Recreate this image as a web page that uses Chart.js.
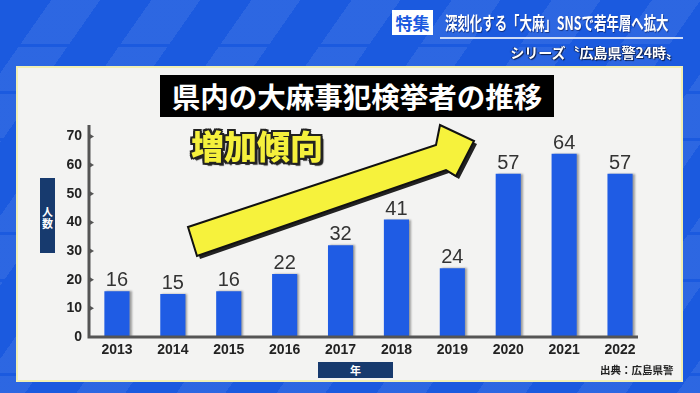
<!DOCTYPE html>
<html lang="ja">
<head>
<meta charset="utf-8">
<script src="https://cdn.jsdelivr.net/npm/chart.js@4.4.1/dist/chart.umd.min.js"></script>
<style>
  html, body { margin: 0; padding: 0; }
  body {
    width: 700px; height: 393px; overflow: hidden; position: relative;
    background:
      repeating-linear-gradient(180deg, rgba(27,90,223,0) 0 44px, #1b5adf 44px 47px),
      repeating-linear-gradient(125deg, rgba(255,255,255,0) 0 42px, rgba(255,255,255,0.08) 42px 82px),
      #1b5adf;
    font-family: "Noto Sans CJK JP", sans-serif;
  }
  .panel {
    position: absolute; left: 16px; top: 66px; width: 663px; height: 312px;
    background: #f3f3f2; border: 2px solid #f1efb4;
  }
  #chart { position: absolute; left: 0; top: 0; z-index: 1; }
  .ov { position: absolute; z-index: 2; white-space: nowrap; }
  .tag {
    left: 392px; top: 10px; width: 41px; height: 25px; background: #fff;
    color: #1b5adf; font-weight: 700; font-size: 17px; line-height: 25px; text-align: center;
  }
  .headline {
    left: 445px; top: 9px; color: #fff; font-weight: 700; font-size: 18px; line-height: 26px;
    transform: scaleX(0.69); transform-origin: left center;
    text-shadow: 1px 1px 1px rgba(0,0,40,0.5);
  }
  .rule { left: 440px; top: 37px; width: 243px; height: 2px; background: #cfdcf7; }
  .series {
    right: 20px; top: 42px; color: #fff; font-weight: 700; font-size: 14px; line-height: 20px;
    text-shadow: 1px 1px 1px #0b1d4a, -1px 0 1px #0b1d4a;
  }
  .title {
    left: 160px; top: 75px; width: 394px; height: 42px; background: #000; color: #fff;
    font-weight: 700; font-size: 28.5px; line-height: 42px; text-align: center;
  }
  .trend {
    left: 191px; top: 125px; color: #f5f03c; font-weight: 900; font-size: 33px; line-height: 40px;
    text-shadow:
      -2px -2px 0 #222, 2px -2px 0 #222, -2px 2px 0 #222, 2px 2px 0 #222,
      0 -2px 0 #222, 0 2px 0 #222, -2px 0 0 #222, 2px 0 0 #222, 3px 3px 1px #222;
  }
  .ylab {
    left: 40px; top: 178px; width: 15px; height: 75px; background: #173a6e; color: #fff;
    font-weight: 700; font-size: 11px; line-height: 12px; text-align: center;
    box-sizing: border-box; padding-top: 27px; white-space: normal;
  }
  .xlab {
    left: 318px; top: 362px; width: 75px; height: 16px; background: #173a6e; color: #fff;
    font-weight: 700; font-size: 11px; line-height: 16px; text-align: center;
  }
  .source { left: 600px; top: 362px; color: #222; font-weight: 700; font-size: 10.5px; line-height: 16px; }
</style>
</head>
<body>
<div class="panel"></div>
<canvas id="chart" width="700" height="393"></canvas>

<div class="ov tag">特集</div>
<div class="ov headline">深刻化する「大麻」SNSで若年層へ拡大</div>
<div class="ov rule"></div>
<div class="ov series">シリーズ〝広島県警24時〟</div>
<div class="ov title">県内の大麻事犯検挙者の推移</div>
<div class="ov trend">増加傾向</div>
<div class="ov ylab">人<br>数</div>
<div class="ov xlab">年</div>
<div class="ov source">出典：広島県警</div>

<script>
const years = ['2013', '2014', '2015', '2016', '2017', '2018', '2019', '2020', '2021', '2022']
const arrests = [16, 15, 16, 22, 32, 41, 24, 57, 64, 57]
const yTicks = [0, 10, 20, 30, 40, 50, 60, 70]

const barBlue = '#1f5ce4'
const axisGray = '#555'

// bars get a little shadow on the right like the broadcast graphic
const barShadow = {
  id: 'barShadow',
  beforeDatasetsDraw(chart) {
    const ctx = chart.ctx
    ctx.save()
    ctx.shadowColor = 'rgba(0,0,0,0.35)'
    ctx.shadowOffsetX = 2
    ctx.shadowOffsetY = 0
    ctx.shadowBlur = 2
  },
  afterDatasetsDraw(chart) {
    chart.ctx.restore()
  },
}

// axis lines, small tick marks and the numbers on top of the bars
const axesAndValues = {
  id: 'axesAndValues',
  afterDatasetsDraw(chart) {
    const { ctx, chartArea: a, scales: { y } } = chart
    ctx.save()
    ctx.strokeStyle = axisGray
    ctx.lineWidth = 3
    ctx.beginPath()
    ctx.moveTo(a.left, a.top)
    ctx.lineTo(a.left, a.bottom)
    ctx.lineTo(a.right - 10, a.bottom)
    ctx.stroke()

    ctx.fillStyle = axisGray
    yTicks.forEach(v => {
      if (v === 0) return
      const py = y.getPixelForValue(v)
      ctx.beginPath()
      ctx.moveTo(a.left, py - 3)
      ctx.lineTo(a.left + 5, py)
      ctx.lineTo(a.left, py + 3)
      ctx.fill()
    })

    ctx.fillStyle = '#333'
    ctx.font = '20px "Liberation Sans", Arial, sans-serif'
    ctx.textAlign = 'center'
    ctx.textBaseline = 'alphabetic'
    chart.getDatasetMeta(0).data.forEach((bar, i) => {
      ctx.fillText(String(arrests[i]), bar.x, bar.y - 5)
    })
    ctx.restore()
  },
}

// the big yellow "rising" arrow
const trendArrow = {
  id: 'trendArrow',
  afterDraw(chart) {
    const ctx = chart.ctx
    const pts = [[188, 227], [436, 145], [440, 125], [474, 141], [456, 176], [446, 170], [197, 256]]
    const path = (dx, dy) => {
      ctx.beginPath()
      pts.forEach(([px, py], i) => (i ? ctx.lineTo(px + dx, py + dy) : ctx.moveTo(px + dx, py + dy)))
      ctx.closePath()
    }
    ctx.save()
    ctx.fillStyle = '#222'
    path(3, 3)
    ctx.fill()
    ctx.fillStyle = '#f6f23c'
    ctx.strokeStyle = '#111'
    ctx.lineWidth = 2
    ctx.lineJoin = 'miter'
    path(0, 0)
    ctx.fill()
    ctx.stroke()
    ctx.restore()
  },
}

new Chart(document.getElementById('chart'), {
  type: 'bar',
  data: {
    labels: years,
    datasets: [{
      data: arrests,
      backgroundColor: barBlue,
      borderWidth: 0,
      barPercentage: 0.45,
      categoryPercentage: 1,
    }],
  },
  options: {
    responsive: false,
    animation: false,
    events: [],
    layout: { padding: { top: 125, right: 52, left: 0, bottom: 0 } },
    plugins: { legend: { display: false }, tooltip: { enabled: false } },
    scales: {
      x: {
        grid: { display: false, drawTicks: false },
        border: { display: false },
        ticks: {
          color: '#222',
          font: { family: '"Liberation Sans", Arial, sans-serif', size: 14, weight: 'bold' },
          padding: 5,
          maxRotation: 0,
          autoSkip: false,
        },
        afterFit(scale) { scale.height = 56 },
      },
      y: {
        min: 0,
        max: 74,
        grid: { display: false, drawTicks: false },
        border: { display: false },
        ticks: {
          color: '#222',
          font: { family: '"Liberation Sans", Arial, sans-serif', size: 14, weight: 'bold' },
          padding: 7,
        },
        afterBuildTicks(scale) { scale.ticks = yTicks.map(v => ({ value: v })) },
        afterFit(scale) { scale.width = 89 },
      },
    },
  },
  plugins: [barShadow, axesAndValues, trendArrow],
})
</script>
</body>
</html>
